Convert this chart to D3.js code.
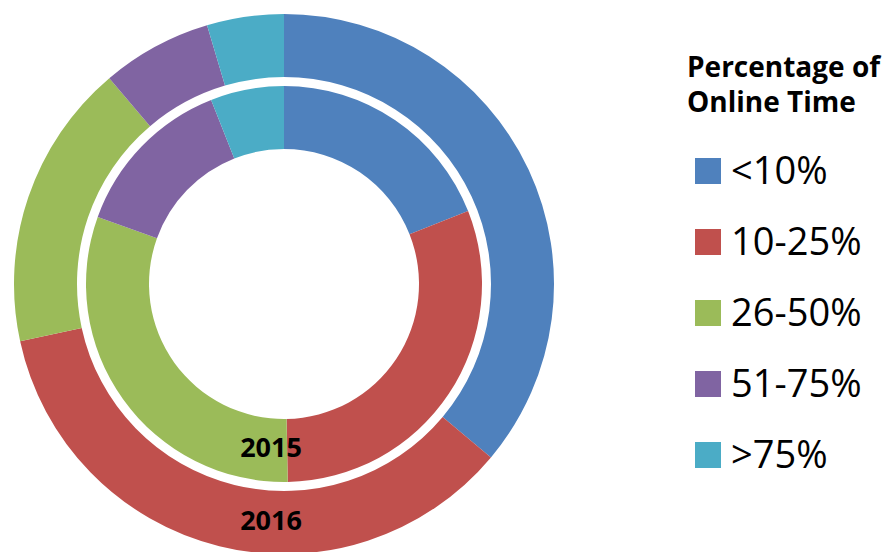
<!DOCTYPE html>
<html>
<head>
<meta charset="utf-8">
<script src="https://cdn.jsdelivr.net/npm/d3@7"></script>
<style>
  body { margin: 0; background: #fff; }
</style>
</head>
<body>
<script>
var w = 889;
var h = 552;

// categories and shares (percent of users)
var categories = ["<10%", "10-25%", "26-50%", "51-75%", ">75%"];
var colors = ["#4F81BD", "#C0504D", "#9BBB59", "#8064A2", "#4BACC6"];
var values2015 = [19.0, 30.7, 30.8, 13.5, 6.0];
var values2016 = [36.1, 35.5, 17.2, 6.6, 4.6];
var legendTitle = ["Percentage of", "Online Time"];

var svg = d3.select("body").append("svg").attr("width", w).attr("height", h);

var cx = 284, cy = 284;
var g = svg.append("g").attr("transform", "translate(" + cx + "," + cy + ")");

var pie = d3.pie().sort(null).value(function(d) { return d; });
var color = d3.scaleOrdinal().domain(d3.range(categories.length)).range(colors);

var arcOuter = d3.arc().innerRadius(207).outerRadius(270);
var arcInner = d3.arc().innerRadius(135).outerRadius(198);

g.selectAll("path.y2016").data(pie(values2016)).enter().append("path")
    .attr("class", "y2016")
    .attr("d", arcOuter)
    .attr("fill", function(d, i) { return color(i); });

g.selectAll("path.y2015").data(pie(values2015)).enter().append("path")
    .attr("class", "y2015")
    .attr("d", arcInner)
    .attr("fill", function(d, i) { return color(i); });

// ring labels
g.append("text").text("2015")
    .attr("x", -13).attr("y", 173)
    .attr("text-anchor", "middle")
    .attr("font-family", "Open Sans")
    .attr("font-weight", "bold")
    .attr("font-size", "27px")
    .attr("fill", "#000");
g.append("text").text("2016")
    .attr("x", -13).attr("y", 246)
    .attr("text-anchor", "middle")
    .attr("font-family", "Open Sans")
    .attr("font-weight", "bold")
    .attr("font-size", "27px")
    .attr("fill", "#000");

// legend
var lg = svg.append("g");
lg.selectAll("text.title").data(legendTitle).enter().append("text")
    .attr("class", "title")
    .text(function(d) { return d; })
    .attr("x", 687)
    .attr("y", function(d, i) { return 77 + i * 35; })
    .attr("font-family", "Open Sans")
    .attr("font-weight", "bold")
    .attr("font-size", "28px")
    .attr("fill", "#000");

var yL = d3.scalePoint().domain(categories).range([171, 455]);

lg.selectAll("rect").data(categories).enter().append("rect")
    .attr("x", 695)
    .attr("y", function(d) { return yL(d) - 13; })
    .attr("width", 26)
    .attr("height", 26)
    .attr("fill", function(d, i) { return color(i); });

lg.selectAll("text.item").data(categories).enter().append("text")
    .attr("class", "item")
    .text(function(d) { return d; })
    .attr("x", 731)
    .attr("y", function(d) { return yL(d) + 13; })
    .attr("font-family", "Open Sans")
    .attr("font-size", "38px")
    .attr("fill", "#000");
</script>
</body>
</html>
